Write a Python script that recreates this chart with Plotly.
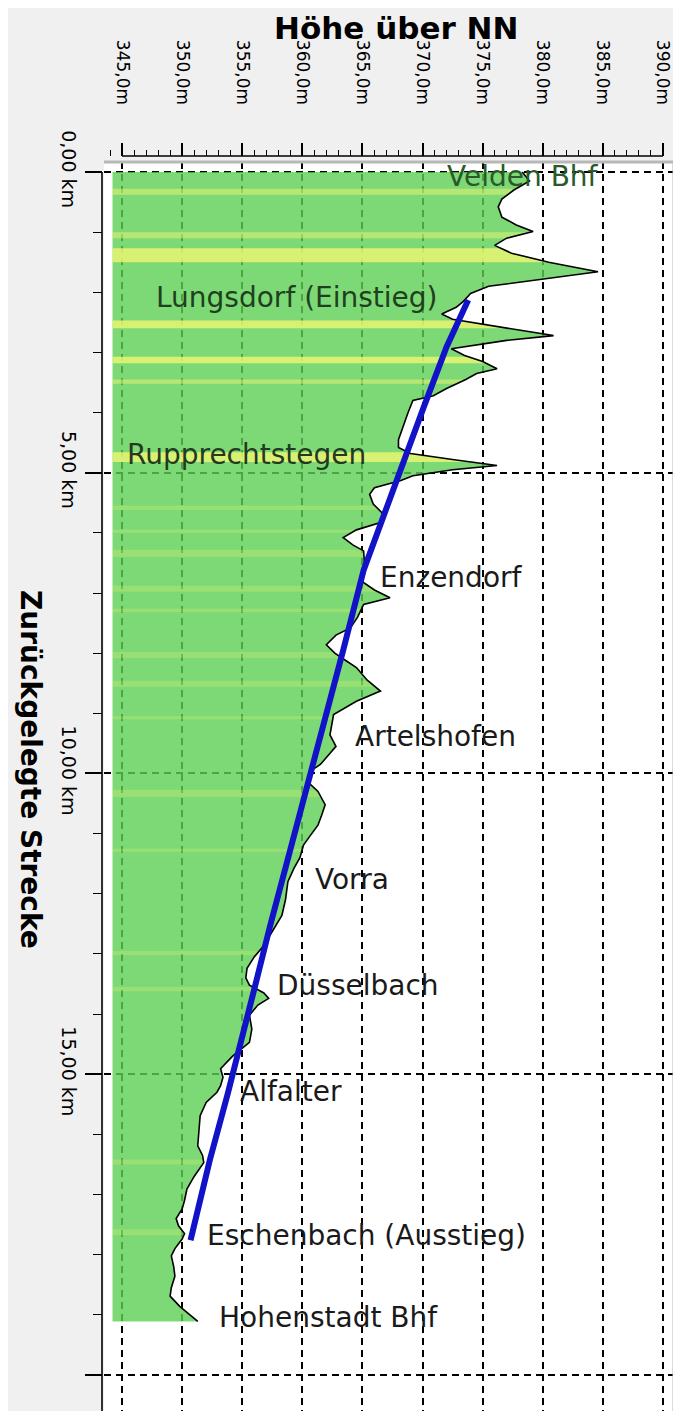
import numpy as np
import plotly.graph_objects as go

# ---------------- data ----------------
# elevation profile: distance along the track (km) and height above sea level (m)
profile_km = [0.00, 0.15, 0.30, 0.45, 0.58, 0.75, 0.88, 0.99, 1.10, 1.22, 1.35, 1.50, 1.66, 1.78,
              1.90, 2.02, 2.15, 2.25, 2.36, 2.45, 2.60, 2.72, 2.80, 2.94, 3.05, 3.15, 3.27, 3.35,
              3.45, 3.60, 3.72, 3.80, 4.00, 4.24, 4.45, 4.58, 4.68, 4.78, 4.88, 4.95, 5.05, 5.13,
              5.25, 5.36, 5.52, 5.70, 5.83, 5.95, 6.08, 6.20, 6.30, 6.60, 6.80, 6.95, 7.08, 7.19,
              7.40, 7.58, 7.70, 7.86, 8.00, 8.08, 8.24, 8.45, 8.63, 8.80, 9.02, 9.36, 9.55, 9.69,
              9.85, 9.97, 10.13, 10.30, 10.52, 10.70, 10.86, 11.05, 11.19, 11.40, 11.58, 11.80,
              12.10, 12.36, 12.60, 12.86, 13.05, 13.24, 13.40, 13.52, 13.65, 13.74, 13.85, 14.02,
              14.25, 14.47, 14.70, 14.91, 15.05, 15.19, 15.30, 15.47, 15.69, 15.90, 16.19, 16.35,
              16.47, 16.70, 16.91, 17.10, 17.24, 17.40, 17.52, 17.65, 17.74, 17.90, 18.02, 18.20,
              18.36, 18.55, 18.69, 18.86, 19.00, 19.11]
profile_m = [378.3, 378.9, 377.6, 376.6, 376.3, 376.6, 377.8, 379.2, 377.0, 376.0, 377.4, 380.5, 384.6, 380.0,
             375.5, 374.0, 373.4, 372.8, 371.6, 372.5, 377.0, 380.9, 377.0, 372.4, 373.5, 375.0, 376.2, 374.5,
             373.6, 372.0, 370.9, 369.2, 368.8, 368.4, 368.0, 368.0, 369.0, 372.5, 376.2, 372.5, 369.2, 368.2,
             366.0, 365.6, 365.9, 366.8, 366.5, 364.5, 363.4, 364.2, 365.1, 365.2, 364.9, 366.0, 367.3, 365.1,
             364.6, 364.0, 362.8, 362.0, 362.7, 363.3, 364.5, 365.4, 366.5, 364.5, 362.6, 362.3, 362.8, 362.2,
             361.5, 360.6, 360.4, 361.3, 361.9, 361.6, 361.3, 360.6, 360.1, 359.8, 359.3, 358.8,
             358.6, 358.3, 357.6, 356.8, 356.0, 355.4, 355.3, 355.6, 356.8, 357.2, 356.3, 355.6,
             355.8, 355.6, 354.2, 353.2, 353.4, 353.2, 352.9, 352.0, 351.5, 351.4, 351.3, 351.7,
             351.8, 351.0, 350.4, 350.2, 350.0, 349.5, 349.7, 350.2, 350.0, 349.4, 349.1, 349.3,
             349.4, 349.1, 349.0, 349.8, 350.6, 351.3]

# ridden route (blue line)
route_km = [2.13, 2.91, 3.91, 4.79, 5.73, 6.62, 7.95, 9.00, 10.11, 11.22, 12.55, 13.43, 14.32,
            15.32, 16.43, 17.76]
route_m = [373.8, 372.0, 370.1, 368.5, 366.7, 365.1, 363.4, 362.0, 360.5, 359.0, 357.3, 356.2, 355.1,
           353.8, 352.3, 350.7]

# stations
station_names = ["Velden Bhf", "Lungsdorf (Einstieg)", "Rupprechtstegen", "Enzendorf", "Artelshofen",
                 "Vorra", "Düsselbach", "Alfalter", "Eschenbach (Ausstieg)", "Hohenstadt Bhf"]
station_km = [0.08, 2.09, 4.70, 6.75, 9.39, 11.77, 13.52, 15.28, 17.69, 19.05]

# gradient bands (km ranges) drawn in yellow
bands_strong = [(1.27, 1.50), (2.47, 2.60), (3.07, 3.18), (4.66, 4.82)]
bands_medium = [(0.28, 0.38), (1.00, 1.10), (3.45, 3.52)]
bands_faint = [(5.55, 5.62), (5.95, 6.0), (6.28, 6.40), (6.88, 6.98), (7.26, 7.32), (7.98, 8.08),
               (8.46, 8.56), (9.05, 9.10), (10.27, 10.39), (11.25, 11.30), (12.95, 13.02),
               (13.55, 13.62), (16.42, 16.50), (17.58, 17.68)]

height_title = "Höhe über NN"
distance_title = "Zurückgelegte Strecke"

# ---------------- layout constants ----------------
PAGE_OFF = 8                      # default body margin of the html page
W, H = 681 - PAGE_OFF, 1411 - PAGE_OFF
FONT = "DejaVu Sans"
fill_base = 344.21                # left edge of the filled terrain
x_range = [343.50, 390.84]
y_range = [20.60, -0.166]
label_x = [371.9, 347.7, 345.25, 366.3, 364.2, 360.9, 357.7, 354.65, 351.9, 352.9]
label_col = ["#2a5a2a", "#1f401f", "#223a22", "#1a1a1a", "#1a1a1a", "#1a1a1a", "#1a1a1a",
             "#1a1a1a", "#1a1a1a", "#1a1a1a"]


def px_x(p):
    return (p - PAGE_OFF) / W


def px_y(p):
    return 1 - (p - PAGE_OFF) / H


fig = go.Figure()

# green terrain
fig.add_trace(go.Scatter(
    x=[fill_base] + profile_m + [fill_base],
    y=[profile_km[0]] + profile_km + [profile_km[-1]],
    mode="lines", fill="toself", fillcolor="rgba(92,208,82,0.80)",
    line=dict(width=0), hoverinfo="skip", showlegend=False))


# yellow bands
def band_poly(d1, d2):
    inner = [d for d in profile_km if d1 < d < d2]
    ds = [d1] + inner + [d2]
    hs = list(np.interp(ds, profile_km, profile_m))
    return [fill_base] + hs + [fill_base], [d1] + ds + [d2]


for bands, alpha in ((bands_strong, 0.8), (bands_medium, 0.5), (bands_faint, 0.25)):
    for d1, d2 in bands:
        bx, by = band_poly(d1, d2)
        fig.add_trace(go.Scatter(
            x=bx, y=by, mode="lines", fill="toself",
            fillcolor=f"rgba(240,246,115,{alpha})", line=dict(width=0),
            hoverinfo="skip", showlegend=False))

# terrain outline
fig.add_trace(go.Scatter(x=profile_m, y=profile_km, mode="lines",
                         line=dict(color="black", width=1.6), hoverinfo="skip", showlegend=False))

# route
fig.add_trace(go.Scatter(x=route_m, y=route_km, mode="lines",
                         line=dict(color="#1212c8", width=6), hoverinfo="skip", showlegend=False))

# station labels
for name, km, lx, col in zip(station_names, station_km, label_x, label_col):
    fig.add_annotation(x=lx, y=km, xref="x", yref="y", text=name, showarrow=False,
                       xanchor="left", yanchor="middle",
                       font=dict(family=FONT, size=28, color=col))

# axis titles
fig.add_annotation(x=px_x(396), y=px_y(9), xref="paper", yref="paper", text=f"<b>{height_title}</b>",
                   showarrow=False, xanchor="center", yanchor="top", borderpad=0,
                   font=dict(family=FONT, size=31, color="black"))
fig.add_annotation(x=px_x(30), y=px_y(769), xref="paper", yref="paper", text=f"<b>{distance_title}</b>",
                   showarrow=False, textangle=90, xanchor="center", yanchor="middle",
                   font=dict(family=FONT, size=28, color="black"))

# axis lines and plot borders
x_axis_y = px_y(156)
y_axis_x = px_x(102)
fig.add_shape(type="line", xref="x", yref="paper", x0=345, x1=390, y0=x_axis_y, y1=x_axis_y,
              line=dict(color="black", width=1.6))
fig.add_shape(type="line", xref="paper", yref="y", x0=y_axis_x, x1=y_axis_x, y0=0, y1=y_range[0],
              line=dict(color="black", width=1.6))
fig.add_shape(type="line", xref="paper", yref="paper", x0=px_x(104), x1=px_x(674),
              y0=px_y(162), y1=px_y(162), line=dict(color="#b8b8b8", width=3))
fig.add_shape(type="line", xref="paper", yref="paper", x0=px_x(674), x1=px_x(674),
              y0=0, y1=px_y(162), line=dict(color="#b8b8b8", width=3))

fig.update_layout(
    width=W, height=H,
    margin=dict(l=0, r=0, t=0, b=0),
    paper_bgcolor="#f0f0f0", plot_bgcolor="white",
    separators=",.",
    showlegend=False,
    font=dict(family=FONT, color="black"),
    xaxis=dict(
        domain=[px_x(104), px_x(673)], range=x_range, side="top",
        anchor="free", position=x_axis_y,
        tickmode="linear", tick0=345, dtick=5, tickformat=".1f", ticksuffix="m",
        tickangle=90, ticks="outside", ticklen=13, tickwidth=1.5, tickcolor="black",
        ticklabelstandoff=32,
        tickfont=dict(family=FONT, size=17, color="black"),
        minor=dict(ticks="outside", dtick=1, tick0=345, ticklen=6, tickwidth=1.2, tickcolor="black",
                   showgrid=False),
        showgrid=True, gridcolor="black", gridwidth=2, griddash="7px,5px",
        showline=False, zeroline=False, automargin=False),
    yaxis=dict(
        domain=[0, px_y(162)], range=y_range,
        anchor="free", position=y_axis_x,
        tickmode="linear", tick0=0, dtick=5, tickformat=".2f", ticksuffix=" km",
        tickangle=90, ticks="outside", ticklen=17, tickwidth=1.5, tickcolor="black",
        tickfont=dict(family=FONT, size=19, color="black"),
        minor=dict(ticks="outside", dtick=1, tick0=0, ticklen=9, tickwidth=1.2, tickcolor="black",
                   showgrid=False),
        showgrid=True, gridcolor="black", gridwidth=2, griddash="7px,5px",
        showline=False, zeroline=False, automargin=False),
)

fig.write_html("out.html")
